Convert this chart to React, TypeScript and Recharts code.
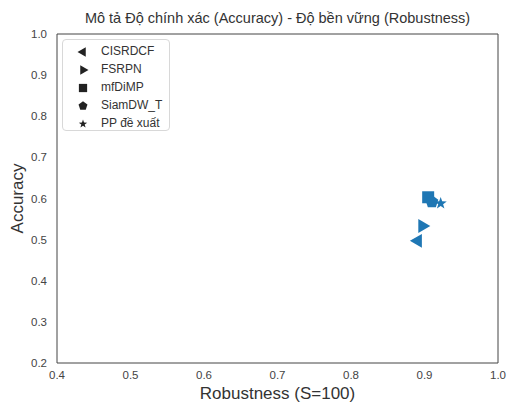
import React from 'react';
import { ScatterChart, Scatter, XAxis, YAxis, ReferenceArea, Legend } from 'recharts';

const methods = ['CISRDCF', 'FSRPN', 'mfDiMP', 'SiamDW_T', 'PP đề xuất'];
const markers = ['triangleLeft', 'triangleRight', 'square', 'pentagon', 'star'];
const robustness = [0.891, 0.897, 0.905, 0.91, 0.922];
const accuracy = [0.497, 0.533, 0.603, 0.592, 0.588];
const xTicks = [0.4, 0.5, 0.6, 0.7, 0.8, 0.9, 1.0];
const yTicks = [0.2, 0.3, 0.4, 0.5, 0.6, 0.7, 0.8, 0.9, 1.0];

const BLUE = '#1f77b4';
const FONT = '"Liberation Sans", Arial, sans-serif';

function markerPath(kind: string, cx: number, cy: number, r: number): string {
  const pts: [number, number][] = [];
  if (kind === 'triangleLeft') {
    pts.push([cx - r, cy], [cx + r * 0.5, cy - r * 0.87], [cx + r * 0.5, cy + r * 0.87]);
  } else if (kind === 'triangleRight') {
    pts.push([cx + r, cy], [cx - r * 0.5, cy - r * 0.87], [cx - r * 0.5, cy + r * 0.87]);
  } else if (kind === 'square') {
    const s = r * 0.75;
    pts.push([cx - s, cy - s], [cx + s, cy - s], [cx + s, cy + s], [cx - s, cy + s]);
  } else if (kind === 'pentagon') {
    for (let i = 0; i < 5; i++) {
      const a = -Math.PI / 2 + (i * 2 * Math.PI) / 5;
      pts.push([cx + r * 0.85 * Math.cos(a), cy + r * 0.85 * Math.sin(a)]);
    }
  } else {
    for (let i = 0; i < 10; i++) {
      const a = -Math.PI / 2 + (i * Math.PI) / 5;
      const rr = i % 2 === 0 ? r * 0.8 : r * 0.32;
      pts.push([cx + rr * Math.cos(a), cy + rr * Math.sin(a)]);
    }
  }
  return 'M' + pts.map((p) => p[0].toFixed(2) + ',' + p[1].toFixed(2)).join('L') + 'Z';
}

const makeShape = (kind: string) => (props: any) => {
  const { cx, cy } = props;
  return <path d={markerPath(kind, cx, cy, 8)} fill={BLUE} stroke="none" />;
};

const LegendContent = () => (
  <div
    style={{
      position: 'absolute',
      left: 62,
      top: 39,
      width: 108,
      height: 92,
      border: '1px solid #d8d8d8',
      borderRadius: 4,
      background: '#fff',
      boxSizing: 'border-box',
      fontFamily: FONT,
      fontSize: 12,
      color: '#333',
    }}
  >
    {methods.map((m, i) => (
      <div key={m} style={{ position: 'absolute', left: 0, top: 3 + i * 18, height: 18, width: 108 }}>
        <svg width={20} height={18} style={{ position: 'absolute', left: 10, top: 0 }}>
          <path d={markerPath(markers[i], 10, 9, 5.5)} fill="#222" />
        </svg>
        <span style={{ position: 'absolute', left: 38, top: 1, whiteSpace: 'nowrap' }}>{m}</span>
      </div>
    ))}
  </div>
);

export default function App() {
  return (
    <div style={{ position: 'absolute', left: 0, top: 0, width: 509, height: 403, background: '#fff' }}>
      <div
        style={{
          position: 'absolute',
          left: 57,
          width: 441,
          top: 10,
          textAlign: 'center',
          fontFamily: FONT,
          fontSize: 14.5,
          color: '#333',
          whiteSpace: 'nowrap',
        }}
      >
        Mô tả Độ chính xác (Accuracy) - Độ bền vững (Robustness)
      </div>
      <ScatterChart width={509} height={403} margin={{ top: 34, right: 11, bottom: 0, left: 0 }}>
        <XAxis
          type="number"
          dataKey="x"
          domain={[0.4, 1.0]}
          ticks={xTicks}
          tickFormatter={(v: number) => v.toFixed(1)}
          axisLine={false}
          tickLine={false}
          height={40}
          tick={{ fontSize: 11.5, fill: '#444', fontFamily: FONT }}
          tickMargin={2}
          label={{ value: 'Robustness (S=100)', position: 'insideBottom', offset: 4, fontSize: 17, fill: '#333', fontFamily: FONT }}
        />
        <YAxis
          type="number"
          dataKey="y"
          domain={[0.2, 1.0]}
          ticks={yTicks}
          tickFormatter={(v: number) => v.toFixed(1)}
          axisLine={false}
          tickLine={false}
          width={57}
          tick={{ fontSize: 11.5, fill: '#444', fontFamily: FONT }}
          tickMargin={4}
          label={{ value: 'Accuracy', angle: -90, position: 'insideLeft', offset: 17, fontSize: 17, fill: '#333', fontFamily: FONT, style: { textAnchor: 'middle' } }}
        />
        <ReferenceArea x1={0.4} x2={1.0} y1={0.2} y2={1.0} fill="none" stroke="#444" strokeWidth={1} ifOverflow="visible" />
        {methods.map((m, i) => (
          <Scatter
            key={m}
            name={m}
            data={[{ x: robustness[i], y: accuracy[i] }]}
            fill={BLUE}
            shape={makeShape(markers[i])}
            isAnimationActive={false}
          />
        ))}
        <Legend content={LegendContent} wrapperStyle={{ position: 'absolute', left: 0, top: 0, width: 0, height: 0 }} />
      </ScatterChart>
    </div>
  );
}
